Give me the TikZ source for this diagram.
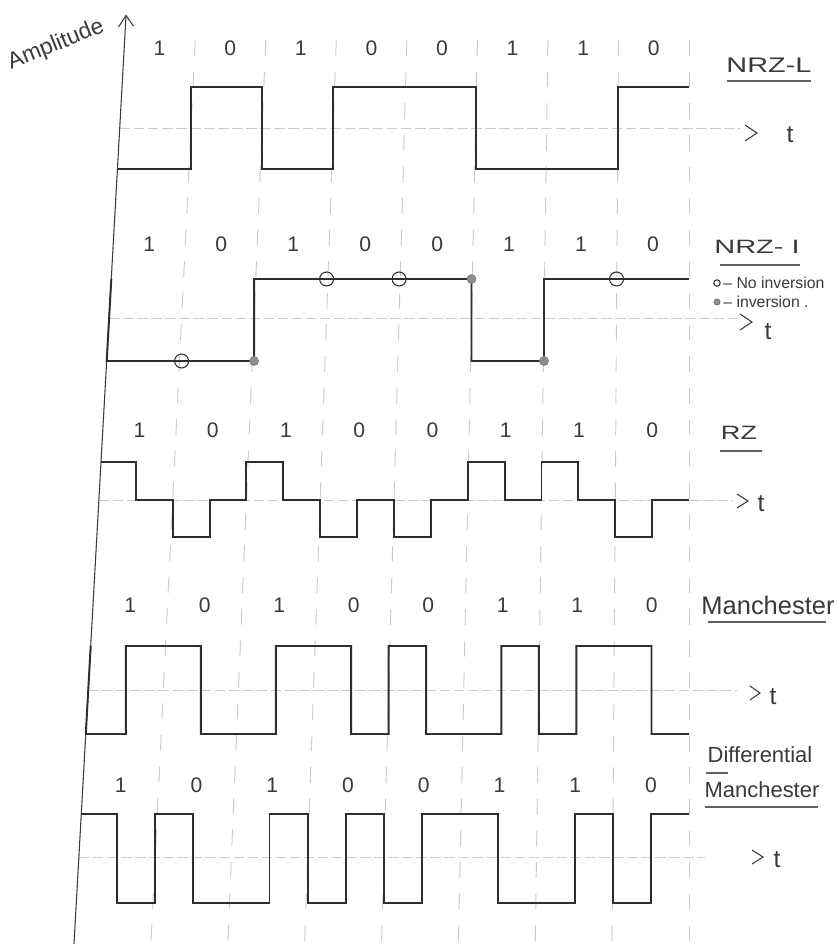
\documentclass[tikz,border=0pt]{standalone}
\usepackage{fontspec}
\setmainfont{Liberation Sans}
\usepackage{graphicx}
\definecolor{ink}{HTML}{2E2E2E}
\definecolor{pencil}{HTML}{3A3A3A}
\definecolor{guidec}{HTML}{CBCBCB}
\definecolor{dotc}{HTML}{8E8E8E}
\begin{document}
\begin{tikzpicture}[x=0.02cm,y=-0.02cm,
  wave/.style={draw=ink,line width=1.1pt,line join=miter},
  guide/.style={draw=guidec,line width=0.55pt,dash pattern=on 9pt off 9pt},
  zeroline/.style={draw=guidec,line width=0.5pt,dash pattern=on 6pt off 2pt},
  bitlbl/.style={text=pencil,font=\fontsize{12}{14}\selectfont,inner sep=0pt},
  title/.style={text=pencil,inner sep=0pt},
  uline/.style={draw=pencil!80,line width=0.6pt},
  chev/.style={draw=pencil,line width=0.6pt},
  opencirc/.style={draw=ink,line width=0.6pt},
  fillcirc/.style={fill=dotc,draw=dotc!80!black,line width=0.3pt}]

\fill[white] (0,0) rectangle (838,944);
\useasboundingbox (0,0) rectangle (838,944);

% guide lines (bit boundaries)
\foreach \t/\b in {195.3/150.9,265.8/227.75,336.3/304.6,406.9/381.5,477.4/458.4,547.9/535.25,618.5/612.1,689/689}
  \draw[guide] (\t,40) -- (\b,944);

% zero lines
\draw[zeroline] (119.8,128) -- (740,128);
\draw[zeroline] (109.1,318) -- (737,318);
\draw[zeroline] (98.9,500) -- (733,500);
\draw[zeroline] (88.2,690) -- (737,690);
\draw[zeroline] (78.9,857) -- (705,857);

% amplitude axis
\draw[draw=pencil,line width=0.6pt] (74,944) -- (126,16);
\draw[draw=pencil,line width=0.6pt] (118.5,27) -- (126,15.5) -- (133.5,26);
\node[title,font=\fontsize{13}{15}\selectfont,rotate=22] (amp) at (56,45) {Amplitude};

% bit labels
\foreach \b [count=\k] in {1,0,1,0,0,1,1,0}
  \node[bitlbl] (ra\k) at ({124.3+(\k-0.5)*70.59},48) {\b};
\foreach \b [count=\k] in {1,0,1,0,0,1,1,0}
  \node[bitlbl] (rb\k) at ({113.3+(\k-0.5)*71.96},244) {\b};
\foreach \b [count=\k] in {1,0,1,0,0,1,1,0}
  \node[bitlbl] (rc\k) at ({102.8+(\k-0.5)*73.27},430) {\b};
\foreach \b [count=\k] in {1,0,1,0,0,1,1,0}
  \node[bitlbl] (rd\k) at ({93.0+(\k-0.5)*74.5},605) {\b};
\foreach \b [count=\k] in {1,0,1,0,0,1,1,0}
  \node[bitlbl] (re\k) at ({82.9+(\k-0.5)*75.76},785) {\b};

% NRZ-L
\draw[wave] (117.5,169) -| (191,87) -| (262.1,169) -| (333.3,87) -| (475.6,169) -| (617.9,87) -- (689,87);

% NRZ-I
\draw[wave] (111.3,279) -- (106.7,361) -| (254.1,279) -| (471.5,361) -| (544,279) -- (689,279);
\foreach \p in {(181.6,361),(326.6,279),(399.1,279),(616.5,279)}
  \draw[opencirc] \p circle[radius=7];
\foreach \p in {(254.1,361),(471.5,279),(544,361)}
  \fill[fillcirc] \p circle[radius=4.5];

% RZ
\draw[wave] (101,462) -| (135.8,500) -| (172.7,537) -| (209.6,500) -| (246.4,462) -| (283.3,500) -| (320.2,537) -| (357.1,500) -| (393.9,537) -| (430.8,500) -| (467.7,462) -| (504.6,500) -| (541.5,462) -| (578.3,500) -| (615.2,537) -| (652.1,500) -- (689,500);

% Manchester
\draw[wave] (90.7,646) -- (85.8,734) -| (125.8,646) -| (200.8,734) -| (275.9,646) -| (351.1,734) -| (388.6,646) -| (426.1,734) -| (501.3,646) -| (538.8,734) -| (576.3,646) -| (651.5,734) -- (689,734);

% Differential Manchester
\draw[wave] (81.3,814) -| (117,903) -| (155.1,814) -| (193.3,903) -| (269.5,814) -| (307.7,903) -| (345.8,814) -| (383.9,903) -| (422.1,814) -| (498.3,903) -| (574.6,814) -| (612.7,903) -| (650.9,814) -- (689,814);

% titles
\node[title,font=\fontsize{12}{14}\selectfont] (nrzl) at (769,65) {\scalebox{1.37}[1]{NRZ-L}};
\draw[uline] (727,81) -- (811,81);
\node[title,font=\fontsize{11}{13}\selectfont] (nrzi) at (757,247) {\scalebox{1.5}[1]{NRZ- I}};
\draw[uline] (720,265) -- (800,265);
\draw[opencirc] (717,283) circle[radius=3.2];
\node[title,font=\fontsize{9}{10}\selectfont,anchor=west] (noinv) at (723,283) {– No inversion};
\fill[fillcirc] (717,302) circle[radius=3.2];
\node[title,font=\fontsize{9}{10}\selectfont,anchor=west] (inv) at (723,302) {– inversion .};
\node[title,font=\fontsize{11}{13}\selectfont] (rz) at (739,433) {\scalebox{1.4}[1]{RZ}};
\draw[uline] (720,451) -- (762,451);
\node[title,font=\fontsize{14.5}{16}\selectfont] (man) at (768,605) {Manchester};
\draw[uline] (708,622) -- (826,622);
\node[title,font=\fontsize{12.5}{14}\selectfont] (diff) at (760,755) {Differential};
\node[title,font=\fontsize{12.5}{14}\selectfont] (dman) at (762,790) {Manchester};
\draw[uline] (706,773) -- (728,773);
\draw[uline] (705,807) -- (818,807);

% time arrows
\draw[chev] (745,125) -- (757,133) -- (745,141);
\node[title,font=\fontsize{14}{16}\selectfont] (t1) at (790,135) {t};
\draw[chev] (740,314) -- (752,322) -- (740,330);
\node[title,font=\fontsize{14}{16}\selectfont] (t2) at (768,332) {t};
\draw[chev] (737,494) -- (748,501) -- (737,508);
\node[title,font=\fontsize{14}{16}\selectfont] (t3) at (761,504) {t};
\draw[chev] (750,686) -- (760,693) -- (750,700);
\node[title,font=\fontsize{14}{16}\selectfont] (t4) at (773,697) {t};
\draw[chev] (752,850) -- (763,857) -- (752,864);
\node[title,font=\fontsize{14}{16}\selectfont] (t5) at (777,860) {t};
\end{tikzpicture}
\end{document}
